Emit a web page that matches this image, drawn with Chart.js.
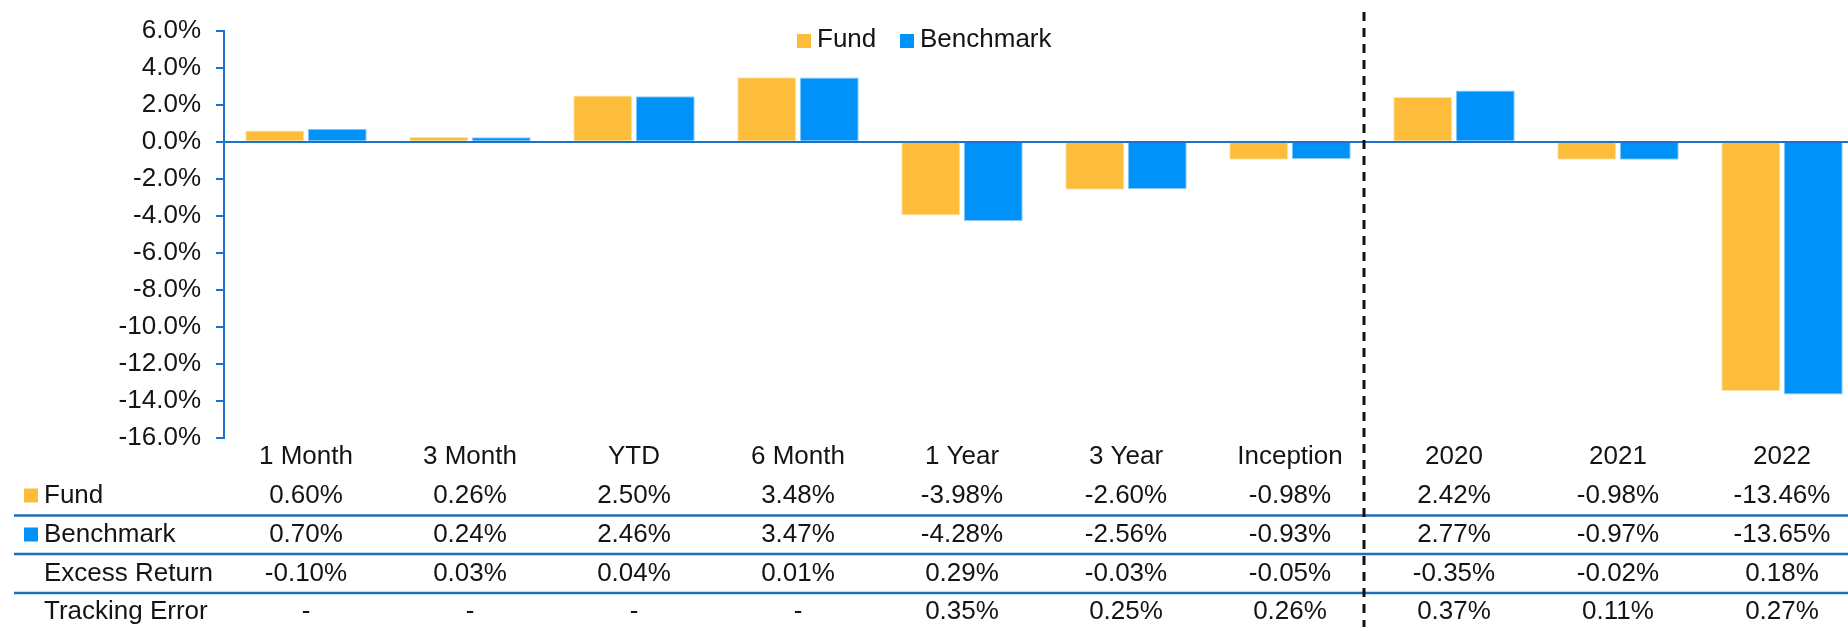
<!DOCTYPE html>
<html>
<head>
<meta charset="utf-8">
<script src="https://cdn.jsdelivr.net/npm/chart.js@4/dist/chart.umd.min.js"></script>
<style>
  html, body { margin: 0; padding: 0; background: #fff; overflow: hidden; }
  #wrap { position: relative; width: 1864px; height: 627px; }
</style>
</head>
<body>
<div id="wrap"><canvas id="chart"></canvas></div>
<script>
// periods and values (in %)
const categories = ['1 Month', '3 Month', 'YTD', '6 Month', '1 Year', '3 Year', 'Inception', '2020', '2021', '2022'];
const fundValues = [0.60, 0.26, 2.50, 3.48, -3.98, -2.60, -0.98, 2.42, -0.98, -13.46];
const benchmarkValues = [0.70, 0.24, 2.46, 3.47, -4.28, -2.56, -0.93, 2.77, -0.97, -13.65];
const excessReturn = [-0.10, 0.03, 0.04, 0.01, 0.29, -0.03, -0.05, -0.35, -0.02, 0.18];
const trackingError = [null, null, null, null, 0.35, 0.25, 0.26, 0.37, 0.11, 0.27];
const yTicks = [6, 4, 2, 0, -2, -4, -6, -8, -10, -12, -14, -16];

const FUND = '#FDBD3A';
const BENCH = '#0092F8';
const AXIS = '#1A73C9';
const RULE = '#1F6DB8';
const TEXT = '#141414';
const FONT = '"Liberation Sans", Arial, sans-serif';

Chart.defaults.font.family = FONT;
Chart.defaults.font.size = 26;
Chart.defaults.color = TEXT;

const pct = v => (v === null ? '-' : v.toFixed(2) + '%');

// legend at top + data table under the plot
const tablePlugin = {
  id: 'tableAndLegend',
  afterDraw(chart) {
    const { ctx, scales: { x } } = chart;
    const W = chart.width;
    ctx.save();
    ctx.font = '26px ' + FONT;
    ctx.fillStyle = TEXT;
    ctx.textBaseline = 'middle';

    // legend
    const legendItems = [
      { label: chart.data.datasets[0].label, color: FUND, x: 797 },
      { label: chart.data.datasets[1].label, color: BENCH, x: 900 }
    ];
    legendItems.forEach(it => {
      ctx.fillStyle = it.color;
      ctx.fillRect(it.x, 34, 14, 14);
      ctx.fillStyle = TEXT;
      ctx.textAlign = 'left';
      ctx.fillText(it.label, it.x + 20, 40);
    });

    // table rows
    const rows = [
      { y: 457, label: null, values: categories },
      { y: 495.5, label: 'Fund', box: FUND, values: fundValues.map(pct) },
      { y: 534.5, label: 'Benchmark', box: BENCH, values: benchmarkValues.map(pct) },
      { y: 573.5, label: 'Excess Return', values: excessReturn.map(pct) },
      { y: 612, label: 'Tracking Error', values: trackingError.map(pct) }
    ];
    rows.forEach(r => {
      if (r.label) {
        if (r.box) {
          ctx.fillStyle = r.box;
          ctx.fillRect(24, r.y - 7, 14, 14);
        }
        ctx.fillStyle = TEXT;
        ctx.textAlign = 'left';
        ctx.fillText(r.label, 44, r.y);
      }
      ctx.fillStyle = TEXT;
      ctx.textAlign = 'center';
      r.values.forEach((v, i) => ctx.fillText(v, x.getPixelForTick(i), r.y));
    });

    // row rules
    ctx.strokeStyle = RULE;
    ctx.lineWidth = 2.5;
    [515.5, 554, 593].forEach(y => {
      ctx.beginPath();
      ctx.moveTo(14, y);
      ctx.lineTo(W, y);
      ctx.stroke();
    });

    // dashed separator between trailing periods and calendar years
    const sx = Math.round(x.getPixelForValue(6.45));
    ctx.strokeStyle = '#111';
    ctx.lineWidth = 3;
    ctx.setLineDash([9, 7]);
    ctx.beginPath();
    ctx.moveTo(sx, 12);
    ctx.lineTo(sx, 627);
    ctx.stroke();
    ctx.restore();
  }
};

new Chart(document.getElementById('chart'), {
  type: 'bar',
  data: {
    labels: categories,
    datasets: [
      { label: 'Fund', data: fundValues, backgroundColor: FUND, borderColor: '#FFE3A6', borderWidth: 1 },
      { label: 'Benchmark', data: benchmarkValues, backgroundColor: BENCH, borderColor: '#8CCBFA', borderWidth: 1 }
    ]
  },
  options: {
    responsive: true,
    maintainAspectRatio: false,
    animation: false,
    datasets: { bar: { categoryPercentage: 0.762, barPercentage: 0.944 } },
    layout: { padding: { top: 29, bottom: 189, left: 0, right: 0 } },
    plugins: { legend: { display: false }, tooltip: { enabled: false } },
    scales: {
      x: { display: false, offset: true },
      y: {
        min: -16,
        max: 6,
        afterBuildTicks(scale) { scale.ticks = yTicks.map(v => ({ value: v })); },
        afterFit(scale) { scale.width = 224; },
        ticks: { padding: 15, color: TEXT, callback: v => v.toFixed(1) + '%' },
        grid: {
          color: c => (c.tick && c.tick.value === 0 ? AXIS : 'rgba(0,0,0,0)'),
          lineWidth: 2,
          tickColor: AXIS,
          tickLength: 8,
          tickWidth: 2
        },
        border: { display: true, color: AXIS, width: 2 }
      }
    }
  },
  plugins: [tablePlugin]
});
</script>
</body>
</html>
